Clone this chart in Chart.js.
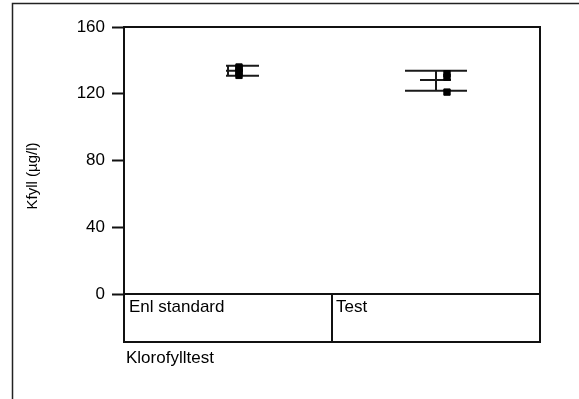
<!DOCTYPE html>
<html>
<head>
<meta charset="utf-8">
<script src="https://cdn.jsdelivr.net/npm/chart.js@4"></script>
<style>
  html, body { margin: 0; padding: 0; background: #fff; }
  #wrap { position: relative; width: 579px; height: 399px; }
</style>
</head>
<body>
<div id="wrap"><canvas id="chart" width="579" height="399"></canvas></div>
<script>
// Kategorier och värden
const categories = ['Enl standard', 'Test'];
const means = [133.8, 128.2];
const upperLimits = [136.8, 133.8];
const lowerLimits = [130.8, 121.8];
const enlPoints = [136, 135, 133, 131];
const testPoints = [132, 130, 121];
const yTicks = [0, 40, 80, 120, 160];

const groupTitle = 'Klorofylltest';
const yTitle = 'Kfyll (µg/l)';

// Utseende för medel-/spridningslinjerna (pixlar relativt kategorins mitt)
const barStyle = {
    outerLeft: [-2, -31],
    outerRight: [31, 31],
    meanLeft: [-2, -16],
    meanRight: [15, 15],
    pointShift: 11
};

const FAMILY = '"Liberation Sans", Arial, sans-serif';
const FONT = '17px ' + FAMILY;

const pointData = [];
enlPoints.forEach(v => pointData.push({ x: categories[0], y: v }));
testPoints.forEach(v => pointData.push({ x: categories[1], y: v }));

// Ritar ramar, kategorirutor och felstaplar
const framePlugin = {
    id: 'frame',
    beforeDatasetsDraw(chart) {
        const ctx = chart.ctx;
        const xs = chart.scales.x;
        const ys = chart.scales.y;
        ctx.save();
        ctx.strokeStyle = '#1a1a1a';
        ctx.lineWidth = 2;
        categories.forEach((c, i) => {
            const cx = xs.getPixelForValue(i);
            const yu = ys.getPixelForValue(upperLimits[i]);
            const yl = ys.getPixelForValue(lowerLimits[i]);
            const ym = ys.getPixelForValue(means[i]);
            ctx.beginPath();
            ctx.moveTo(cx + barStyle.outerLeft[i], yu);
            ctx.lineTo(cx + barStyle.outerRight[i], yu);
            ctx.moveTo(cx + barStyle.outerLeft[i], yl);
            ctx.lineTo(cx + barStyle.outerRight[i], yl);
            ctx.moveTo(cx + barStyle.meanLeft[i], ym);
            ctx.lineTo(cx + barStyle.meanRight[i], ym);
            ctx.moveTo(cx, yu);
            ctx.lineTo(cx, yl);
            ctx.stroke();
        });
        ctx.restore();
        // punkterna förskjuts lite åt höger
        ctx.save();
        ctx.translate(barStyle.pointShift, 0);
    },
    afterDatasetsDraw(chart) {
        chart.ctx.restore();
    },
    afterDraw(chart) {
        const ctx = chart.ctx;
        const a = chart.chartArea;
        const xs = chart.scales.x;
        ctx.save();
        ctx.strokeStyle = '#111';
        ctx.lineWidth = 2;
        // diagramruta
        ctx.strokeRect(a.left, a.top, a.right - a.left, a.bottom - a.top);
        // kategoriruta under diagrammet
        const boxBottom = a.bottom + 48;
        ctx.strokeRect(a.left, a.bottom, a.right - a.left, boxBottom - a.bottom);
        const mid = (xs.getPixelForValue(0) + xs.getPixelForValue(1)) / 2;
        ctx.beginPath();
        ctx.moveTo(mid, a.bottom);
        ctx.lineTo(mid, boxBottom);
        ctx.stroke();
        // yttre ram (topp och vänster)
        ctx.strokeStyle = '#222';
        ctx.lineWidth = 1.5;
        ctx.beginPath();
        ctx.moveTo(12.5, 399);
        ctx.lineTo(12.5, 3.5);
        ctx.lineTo(579, 3.5);
        ctx.stroke();

        ctx.fillStyle = '#000';
        ctx.font = FONT;
        ctx.textAlign = 'left';
        ctx.textBaseline = 'alphabetic';
        ctx.fillText(categories[0], a.left + 5, a.bottom + 18);
        ctx.fillText(categories[1], mid + 4, a.bottom + 18);
        ctx.fillText(groupTitle, a.left + 2, a.bottom + 69);

        ctx.font = '15px ' + FAMILY;
        ctx.translate(37, 176);
        ctx.rotate(-Math.PI / 2);
        ctx.textAlign = 'center';
        ctx.fillText(yTitle, 0, 0);
        ctx.restore();
    }
};

new Chart(document.getElementById('chart'), {
    type: 'line',
    data: {
        labels: categories,
        datasets: [{
            data: pointData,
            showLine: false,
            pointStyle: 'rect',
            pointRadius: 4.5,
            pointBorderWidth: 1,
            pointBackgroundColor: '#000',
            pointBorderColor: '#000'
        }]
    },
    options: {
        responsive: false,
        animation: false,
        layout: {
            padding: { left: 0, top: 27, right: 39, bottom: 105 }
        },
        plugins: {
            legend: { display: false },
            tooltip: { enabled: false }
        },
        scales: {
            x: {
                type: 'category',
                display: false,
                offset: true
            },
            y: {
                min: 0,
                max: 160,
                afterFit: function(scale) {
                    scale.width = 124;
                },
                afterBuildTicks: function(scale) {
                    scale.ticks = yTicks.map(v => ({ value: v }));
                },
                border: { display: false },
                grid: {
                    drawOnChartArea: false,
                    drawTicks: true,
                    tickLength: 12,
                    tickWidth: 2,
                    color: '#111'
                },
                ticks: {
                    color: '#000',
                    padding: 7,
                    font: { family: FAMILY, size: 17 }
                }
            }
        }
    },
    plugins: [framePlugin]
});
</script>
</body>
</html>
